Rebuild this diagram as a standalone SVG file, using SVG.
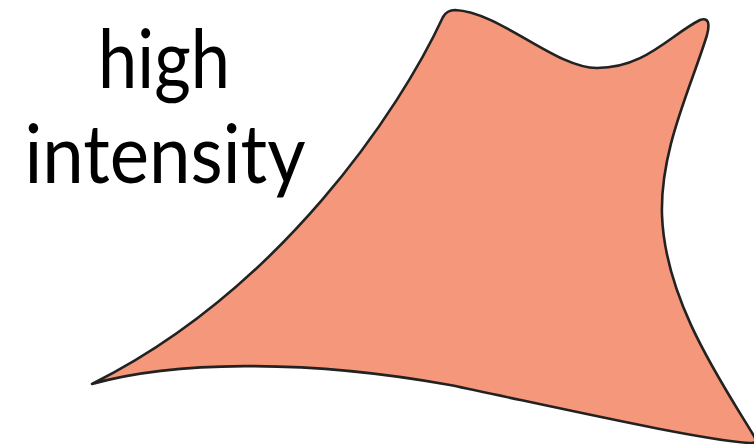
<svg xmlns="http://www.w3.org/2000/svg" width="754" height="444" viewBox="0 0 754 444">
<style>
.shape{fill:#F5977A;stroke:#222222;stroke-width:2.6;stroke-linejoin:round}
.lbl{font-family:Lato,"Open Sans","Liberation Sans",sans-serif;font-size:81px;fill:#000000;text-anchor:middle}
</style>
<rect width="754" height="444" fill="#ffffff"/>
<g id="blob">
<path class="shape" d="M92,384 C170,362 300,358 450,385 C560,408 700,440 750,443 Q758,444 754,436 C720,380 665,300 662,215 C660,150 690,90 707,35 Q712,16 700,20 C670,35 645,68 597,68 C555,68 500,12 455,10 Q447,10 443,17 C400,110 280,290 92,384 Z"/>
</g>
<g id="label">
<text class="lbl" x="164" y="88" textLength="132" lengthAdjust="spacingAndGlyphs">high</text>
<text class="lbl" x="165" y="183" textLength="281" lengthAdjust="spacingAndGlyphs">intensity</text>
</g>
</svg>
